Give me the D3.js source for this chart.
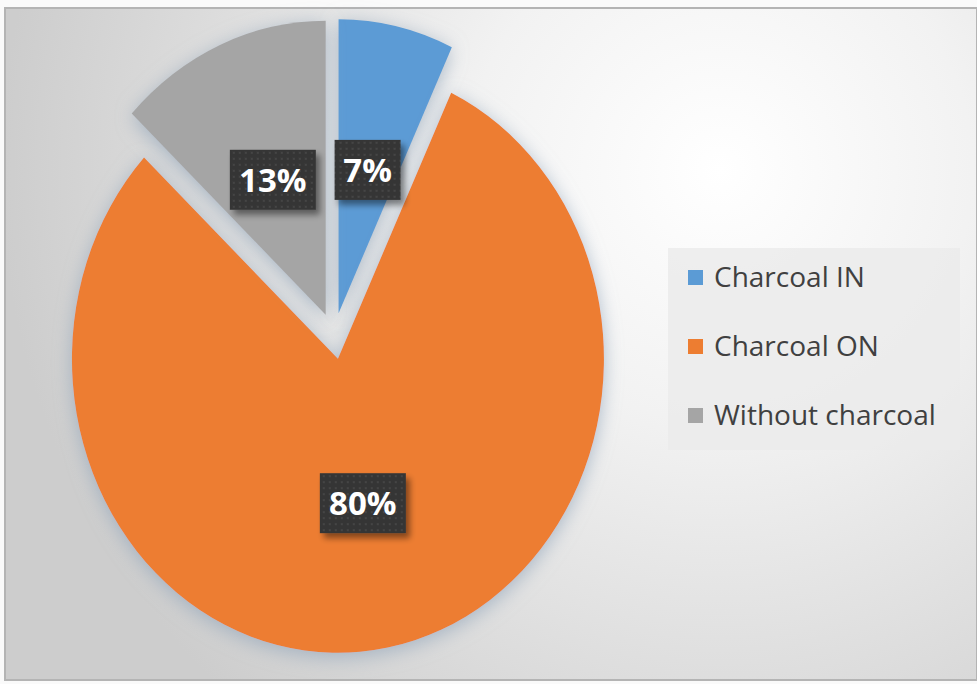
<!DOCTYPE html>
<html>
<head>
<meta charset="utf-8">
<script src="https://d3js.org/d3.v7.min.js"></script>
<style>
  body { margin: 0; background: #fff; }
  svg { display: block; }
</style>
</head>
<body>
<div id="chart"></div>
<script>
var labels = ["Charcoal IN", "Charcoal ON", "Without charcoal"];
var values = [7, 80, 13];
var colors = ["#5b9bd5", "#ed7d31", "#a5a5a5"];

var width = 977, height = 684;

var svg = d3.select("#chart").append("svg")
    .attr("width", width)
    .attr("height", height);

var defs = svg.append("defs");

// background gradient
var grad = defs.append("radialGradient")
    .attr("id", "bg")
    .attr("gradientUnits", "userSpaceOnUse")
    .attr("cx", 720).attr("cy", 170).attr("r", 720);
grad.append("stop").attr("offset", "0%").attr("stop-color", "#ffffff");
grad.append("stop").attr("offset", "35%").attr("stop-color", "#f2f2f2");
grad.append("stop").attr("offset", "100%").attr("stop-color", "#cdcdcd");

// soft shadow for slices
var sh = defs.append("filter").attr("id", "shadow")
    .attr("x", "-20%").attr("y", "-20%").attr("width", "140%").attr("height", "140%");
sh.append("feGaussianBlur").attr("in", "SourceAlpha").attr("stdDeviation", 9).attr("result", "blur");
sh.append("feOffset").attr("in", "blur").attr("dx", 0).attr("dy", 4).attr("result", "off");
sh.append("feFlood").attr("flood-color", "#8fa3b8").attr("flood-opacity", 0.7);
sh.append("feComposite").attr("in2", "off").attr("operator", "in").attr("result", "sh");
var m = sh.append("feMerge");
m.append("feMergeNode").attr("in", "sh");
m.append("feMergeNode").attr("in", "SourceGraphic");

// shadow for label boxes
var bs = defs.append("filter").attr("id", "boxshadow")
    .attr("x", "-30%").attr("y", "-30%").attr("width", "170%").attr("height", "170%");
bs.append("feGaussianBlur").attr("in", "SourceAlpha").attr("stdDeviation", 3).attr("result", "b");
bs.append("feOffset").attr("in", "b").attr("dx", 4).attr("dy", 5).attr("result", "o");
bs.append("feComponentTransfer").attr("in", "o").attr("result", "o2")
  .append("feFuncA").attr("type", "linear").attr("slope", 0.45);
var m2 = bs.append("feMerge");
m2.append("feMergeNode").attr("in", "o2");
m2.append("feMergeNode").attr("in", "SourceGraphic");

// dotted texture for label boxes
var pat = defs.append("pattern").attr("id", "dots")
    .attr("patternUnits", "userSpaceOnUse")
    .attr("width", 6).attr("height", 6);
pat.append("rect").attr("width", 6).attr("height", 6).attr("fill", "#363636");
pat.append("circle").attr("cx", 3).attr("cy", 3).attr("r", 1).attr("fill", "#4a4a4a");

// frame
svg.append("rect")
    .attr("x", 0).attr("y", 0).attr("width", width).attr("height", height)
    .attr("fill", "#fafafa");
svg.append("rect")
    .attr("x", 5).attr("y", 8).attr("width", width - 5).attr("height", 672)
    .attr("fill", "url(#bg)")
    .attr("stroke", "#b4b4b4").attr("stroke-width", 2);

// pie
var cx = 334, cy = 336;
var rx = 266, ry = 294;
var explode = 21;

var pie = d3.pie().sort(null).value(function(d) { return d; });
var arcs = pie(values);
var arc = d3.arc().innerRadius(0).outerRadius(rx);
var labelArc = d3.arc().innerRadius(rx * 0.5).outerRadius(rx * 0.5);

var pieG = svg.append("g")
    .attr("transform", "translate(" + cx + "," + cy + ") scale(1," + (ry / rx) + ")");

pieG.selectAll("path")
    .data(arcs)
    .enter()
    .append("path")
    .attr("d", arc)
    .attr("fill", function(d, i) { return colors[i]; })
    .attr("filter", "url(#shadow)")
    .attr("transform", function(d) {
        var a = (d.startAngle + d.endAngle) / 2;
        return "translate(" + (Math.sin(a) * explode) + "," + (-Math.cos(a) * explode) + ")";
    });

// data labels
var boxW = [66, 86, 86];
var lab = svg.append("g").selectAll("g")
    .data(arcs)
    .enter()
    .append("g")
    .attr("transform", function(d) {
        var a = (d.startAngle + d.endAngle) / 2;
        var c = labelArc.centroid(d);
        var x = cx + c[0] + Math.sin(a) * explode;
        var y = cy + (c[1] - Math.cos(a) * explode) * ry / rx;
        return "translate(" + x + "," + y + ")";
    });

lab.append("rect")
    .attr("x", function(d, i) { return -boxW[i] / 2; })
    .attr("y", -30)
    .attr("width", function(d, i) { return boxW[i]; })
    .attr("height", 60)
    .attr("fill", "url(#dots)")
    .attr("filter", "url(#boxshadow)");

lab.append("text")
    .attr("text-anchor", "middle")
    .attr("dy", "0.36em")
    .attr("fill", "#ffffff")
    .style("font-family", "'Open Sans', sans-serif")
    .style("font-weight", "bold")
    .style("font-size", "33px")
    .text(function(d) { return d.value + "%"; });

// legend
var legend = svg.append("g");
legend.append("rect")
    .attr("x", 668).attr("y", 248).attr("width", 292).attr("height", 202)
    .attr("fill", "#ebebeb").attr("opacity", 0.85);

var item = legend.selectAll("g")
    .data(labels)
    .enter()
    .append("g")
    .attr("transform", function(d, i) { return "translate(688," + (277 + i * 69) + ")"; });

item.append("rect")
    .attr("x", 0).attr("y", -7)
    .attr("width", 15).attr("height", 15)
    .attr("fill", function(d, i) { return colors[i]; });

item.append("text")
    .attr("x", 26)
    .attr("dy", "0.36em")
    .attr("fill", "#404040")
    .style("font-family", "'Open Sans', sans-serif")
    .style("font-size", "28px")
    .text(function(d) { return d; });
</script>
</body>
</html>
